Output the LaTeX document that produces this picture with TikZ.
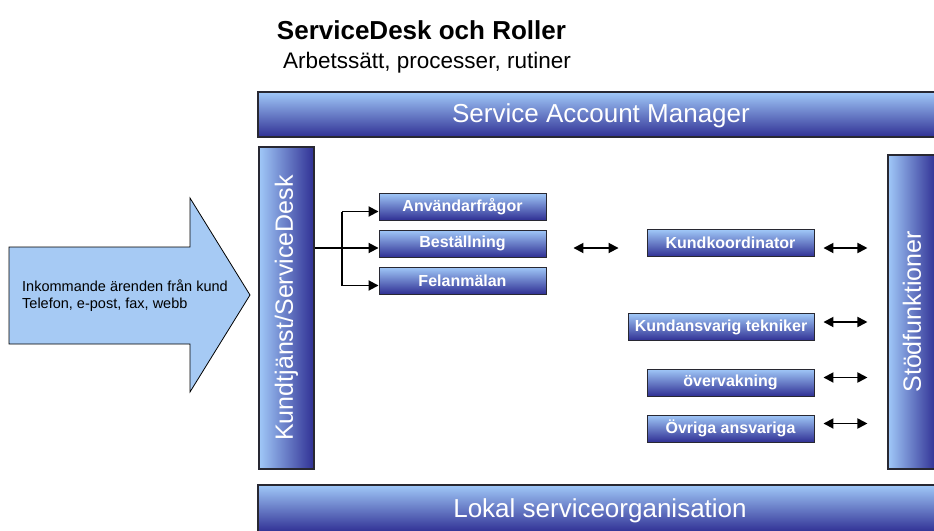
\documentclass[tikz,border=0pt]{standalone}
\usepackage{fontspec}
\setmainfont{Liberation Sans}
\usetikzlibrary{arrows.meta}
\definecolor{lightblue}{RGB}{160,200,248}
\definecolor{darkblue}{RGB}{48,48,148}
\definecolor{arrowfill}{RGB}{166,202,244}
\definecolor{edge}{RGB}{40,40,50}
\tikzset{
  bar/.style={draw=edge, line width=1.1pt, top color=lightblue, bottom color=darkblue,
    text=white, inner sep=0pt},
  vbar/.style={draw=edge, line width=1.1pt, left color=lightblue, right color=darkblue,
    text=white, inner sep=0pt, rotate=90, font=\fontsize{25}{27}\selectfont},
  bartext/.style={text=white, font=\fontsize{26}{28}\selectfont},
  rolebox/.style={draw=edge, line width=0.9pt, top color=lightblue, bottom color=darkblue,
    text=white, inner sep=0pt, minimum height=27pt, font=\bfseries\fontsize{16}{18}\selectfont},
  tip/.style={Triangle[length=10pt,width=10pt]},
  feed/.style={line width=1.8pt, -{Triangle[length=10pt,width=10pt]}},
  link/.style={line width=1.8pt, {Triangle[length=10pt,width=10pt]}-{Triangle[length=10pt,width=10pt]}},
}
\begin{document}
\begin{tikzpicture}[x=1pt,y=-1pt]
\useasboundingbox (0,0) rectangle (934,530);
\clip (0,0) rectangle (934,530);
\fill[white] (0,0) rectangle (934,530);

% headings
\node[font=\bfseries\fontsize{26}{28}\selectfont] (title) at (421.5,30) {ServiceDesk och Roller};
\node[font=\fontsize{22.5}{25}\selectfont] (sub) at (427,63) {Arbetssätt, processer, rutiner};

% horizontal bars
\node[bar, minimum width=680pt, minimum height=45pt] (sam) at (598,114.5) {};
\node[bartext] (samtxt) at (601,116) {Service Account Manager};
\node[bar, minimum width=680pt, minimum height=47pt] (lso) at (598,508.5) {};
\node[bartext] (lsotxt) at (600,511) {Lokal serviceorganisation};

% vertical bars
\node[vbar, minimum width=322pt, minimum height=55pt] (kd) at (286.5,308) {Kundtjänst/ServiceDesk};
\node[vbar, minimum width=314pt, minimum height=48pt] (sf) at (912,312) {Stödfunktioner};

% incoming arrow
\draw[draw=black, line width=0.8pt, fill=arrowfill]
  (9,247) -- (190,247) -- (190,198) -- (250,295) -- (190,392) -- (190,344) -- (9,344) -- cycle;
\node[anchor=west, align=left, inner sep=0pt, font=\fontsize{14.5}{17}\selectfont] (inc) at (22,296)
  {Inkommande ärenden från kund\\Telefon, e-post, fax, webb};

% role boxes
\node[rolebox, minimum width=167pt] (anv) at (462.5,206.5) {Användarfrågor};
\node[rolebox, minimum width=167pt] (best) at (462.5,243.5) {Beställning};
\node[rolebox, minimum width=167pt] (fel) at (462.5,280.5) {Felanmälan};
\node[rolebox, minimum width=167pt] (kk) at (730.5,243) {Kundkoordinator};
\node[rolebox, minimum width=186pt] (kt) at (721,327) {Kundansvarig tekniker};
\node[rolebox, minimum width=167pt] (ov) at (730.5,382.5) {övervakning};
\node[rolebox, minimum width=167pt] (oa) at (730.5,428.5) {Övriga ansvariga};

% branching from the service desk
\coordinate (split) at (342,248);
\draw[line width=1.8pt] (kd.south |- split) -- (split);
\draw[line width=1.8pt] ([yshift=-5pt]anv.west -| split) -- ([yshift=-5pt]fel.west -| split);
\draw[feed] ([yshift=-5pt]anv.west -| split) -- ([yshift=-5pt]anv.west);
\draw[feed] (split) -- ([yshift=-4.5pt]best.west);
\draw[feed] ([yshift=-5pt]fel.west -| split) -- ([yshift=-5pt]fel.west);

% two-way links
\draw[link, shorten <=27pt, shorten >=28pt] ([yshift=-4.5pt]best.east) -- ([yshift=-4.5pt]best.east -| kk.west);
\draw[link, shorten <=9pt, shorten >=20pt] ([yshift=-5pt]kk.east) -- ([yshift=-5pt]kk.east -| sf.north);
\draw[link, shorten <=9pt, shorten >=20pt] ([yshift=5pt]kt.east) -- ([yshift=5pt]kt.east -| sf.north);
\draw[link, shorten <=9pt, shorten >=20pt] ([yshift=5pt]ov.east) -- ([yshift=5pt]ov.east -| sf.north);
\draw[link, shorten <=9pt, shorten >=20pt] ([yshift=5pt]oa.east) -- ([yshift=5pt]oa.east -| sf.north);
\end{tikzpicture}
\end{document}
